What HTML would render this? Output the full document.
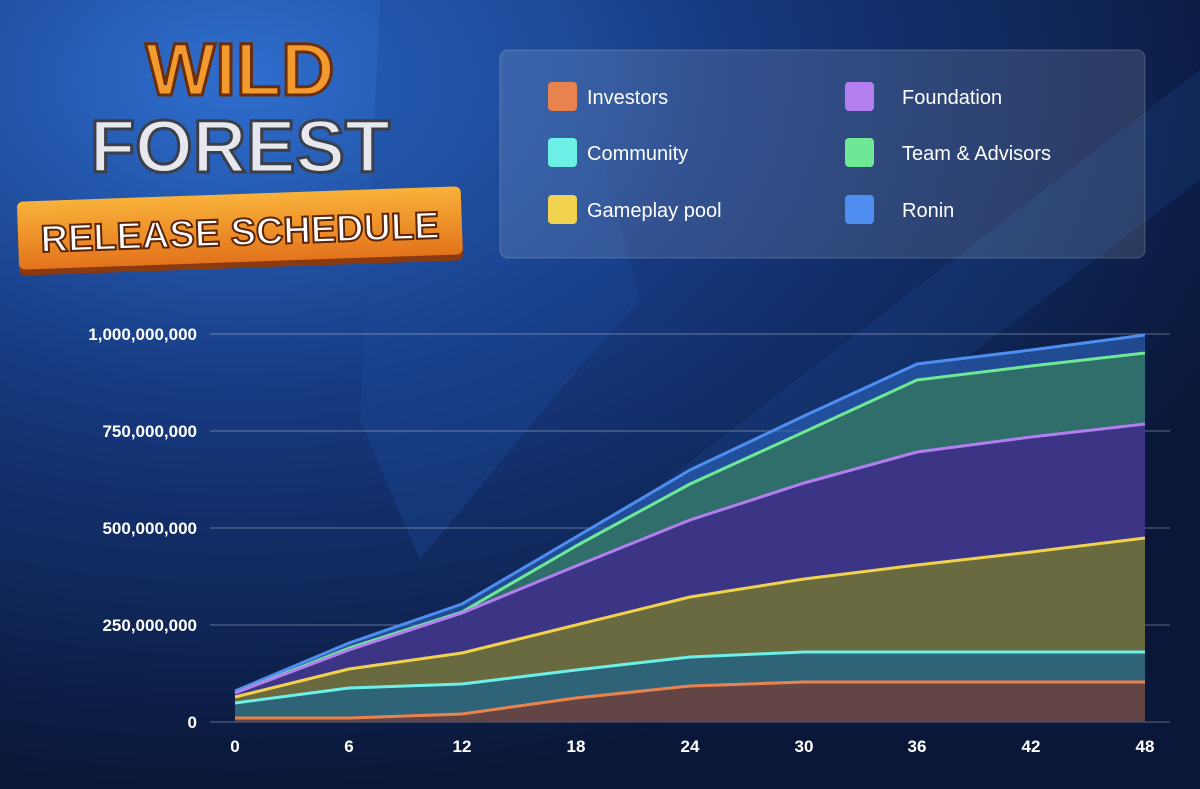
<!DOCTYPE html>
<html><head><meta charset="utf-8"><style>
html,body{margin:0;padding:0;width:1200px;height:789px;overflow:hidden;background:#0b1a3e;}
</style></head><body>
<svg width="1200" height="789" viewBox="0 0 1200 789" xmlns="http://www.w3.org/2000/svg" font-family="Liberation Sans, sans-serif">
<defs>
<radialGradient id="bg" cx="0.2" cy="0.1" r="0.9">
<stop offset="0" stop-color="#2f6fd0"/><stop offset="0.45" stop-color="#16397f"/><stop offset="1" stop-color="#0a1738"/>
</radialGradient>
<linearGradient id="ban" x1="0" y1="0" x2="0" y2="1"><stop offset="0" stop-color="#f9b23a"/><stop offset="1" stop-color="#e3731c"/></linearGradient>
</defs>
<rect width="1200" height="789" fill="url(#bg)"/>
<path d="M380 0 L560 0 L640 300 L560 390 L420 560 L360 420 Z" fill="#1e4a9c" opacity="0.35"/>
<path d="M640 500 L1200 70 L1200 180 L700 560 Z" fill="#2b63bf" opacity="0.15"/>
<text x="240" y="95" text-anchor="middle" font-size="74" font-weight="900" fill="#f29a2e" stroke="#6b2e0c" stroke-width="3">WILD</text>
<text x="240" y="172" text-anchor="middle" font-size="74" font-weight="900" fill="#e6e8ee" stroke="#3a3f4a" stroke-width="3">FOREST</text>
<g transform="rotate(-2 240 232)">
<rect x="18" y="198" width="444" height="70" rx="6" fill="#8a3a10"/>
<rect x="18" y="194" width="444" height="68" rx="6" fill="url(#ban)"/>
<text x="240" y="245" text-anchor="middle" font-size="38" font-weight="900" fill="#fff" stroke="#5a2408" stroke-width="2">RELEASE SCHEDULE</text>
</g>
<rect x="500" y="50" width="645" height="208" rx="8" fill="#ffffff" fill-opacity="0.12" stroke="#ffffff" stroke-opacity="0.2"/>
<g font-size="20" fill="#ffffff">
<rect x="548" y="82" width="29" height="29" rx="4" fill="#e8834f"/><text x="587" y="104">Investors</text>
<rect x="548" y="138" width="29" height="29" rx="4" fill="#6df0e6"/><text x="587" y="160">Community</text>
<rect x="548" y="195" width="29" height="29" rx="4" fill="#f0d24e"/><text x="587" y="217">Gameplay pool</text>
<rect x="845" y="82" width="29" height="29" rx="4" fill="#b37ef0"/><text x="902" y="104">Foundation</text>
<rect x="845" y="138" width="29" height="29" rx="4" fill="#6fe896"/><text x="902" y="160">Team &amp; Advisors</text>
<rect x="845" y="195" width="29" height="29" rx="4" fill="#4e8ef0"/><text x="902" y="217">Ronin</text>
</g>
<g stroke="#ffffff" stroke-opacity="0.35" stroke-width="1">
<line x1="210" y1="334" x2="1170" y2="334"/><line x1="210" y1="431" x2="1170" y2="431"/>
<line x1="210" y1="528" x2="1170" y2="528"/><line x1="210" y1="625" x2="1170" y2="625"/>
<line x1="210" y1="722" x2="1170" y2="722"/>
</g>
<g font-size="17" font-weight="bold" fill="#ffffff" text-anchor="end">
<text x="197" y="340">1,000,000,000</text><text x="197" y="437">750,000,000</text>
<text x="197" y="534">500,000,000</text><text x="197" y="631">250,000,000</text><text x="197" y="728">0</text>
</g>
<g font-size="17" font-weight="bold" fill="#ffffff" text-anchor="middle">
<text x="235" y="752">0</text><text x="349" y="752">6</text><text x="462" y="752">12</text><text x="576" y="752">18</text><text x="690" y="752">24</text><text x="804" y="752">30</text><text x="917" y="752">36</text><text x="1031" y="752">42</text><text x="1145" y="752">48</text>
</g>
<g>
<path d="M235 691 L349 643 L462 604 L576 537 L690 470 L804 416 L917 364 L1031 350 L1145 335 L1145 722 L235 722Z" fill="#2a5cb0" fill-opacity="0.7"/>
<path d="M235 693 L349 648 L462 612 L576 546 L690 484 L804 432 L917 380 L1031 366 L1145 353 L1145 722 L235 722Z" fill="#2f6e6a"/>
<path d="M235 693 L349 650 L462 613 L576 566 L690 520 L804 483 L917 452 L1031 437 L1145 424 L1145 722 L235 722Z" fill="#3c3586"/>
<path d="M235 697 L349 669 L462 653 L576 625 L690 597 L804 579 L917 565 L1031 552 L1145 538 L1145 722 L235 722Z" fill="#6a6a40"/>
<path d="M235 703 L349 688 L462 684 L576 670 L690 657 L804 652 L917 652 L1031 652 L1145 652 L1145 722 L235 722Z" fill="#2f6478"/>
<path d="M235 718 L349 718 L462 714 L576 698 L690 686 L804 682 L917 682 L1031 682 L1145 682 L1145 722 L235 722Z" fill="#644545"/>
</g>
<g fill="none" stroke-width="3" stroke-linejoin="round">
<path d="M235 691 L349 643 L462 604 L576 537 L690 470 L804 416 L917 364 L1031 350 L1145 335" stroke="#4e8ef0"/>
<path d="M235 693 L349 648 L462 612 L576 546 L690 484 L804 432 L917 380 L1031 366 L1145 353" stroke="#6fe896"/>
<path d="M235 693 L349 650 L462 613 L576 566 L690 520 L804 483 L917 452 L1031 437 L1145 424" stroke="#b37ef0"/>
<path d="M235 697 L349 669 L462 653 L576 625 L690 597 L804 579 L917 565 L1031 552 L1145 538" stroke="#f0d24e"/>
<path d="M235 703 L349 688 L462 684 L576 670 L690 657 L804 652 L917 652 L1031 652 L1145 652" stroke="#6df0e6"/>
<path d="M235 718 L349 718 L462 714 L576 698 L690 686 L804 682 L917 682 L1031 682 L1145 682" stroke="#e8834f"/>
</g>
</svg>
</body></html>
